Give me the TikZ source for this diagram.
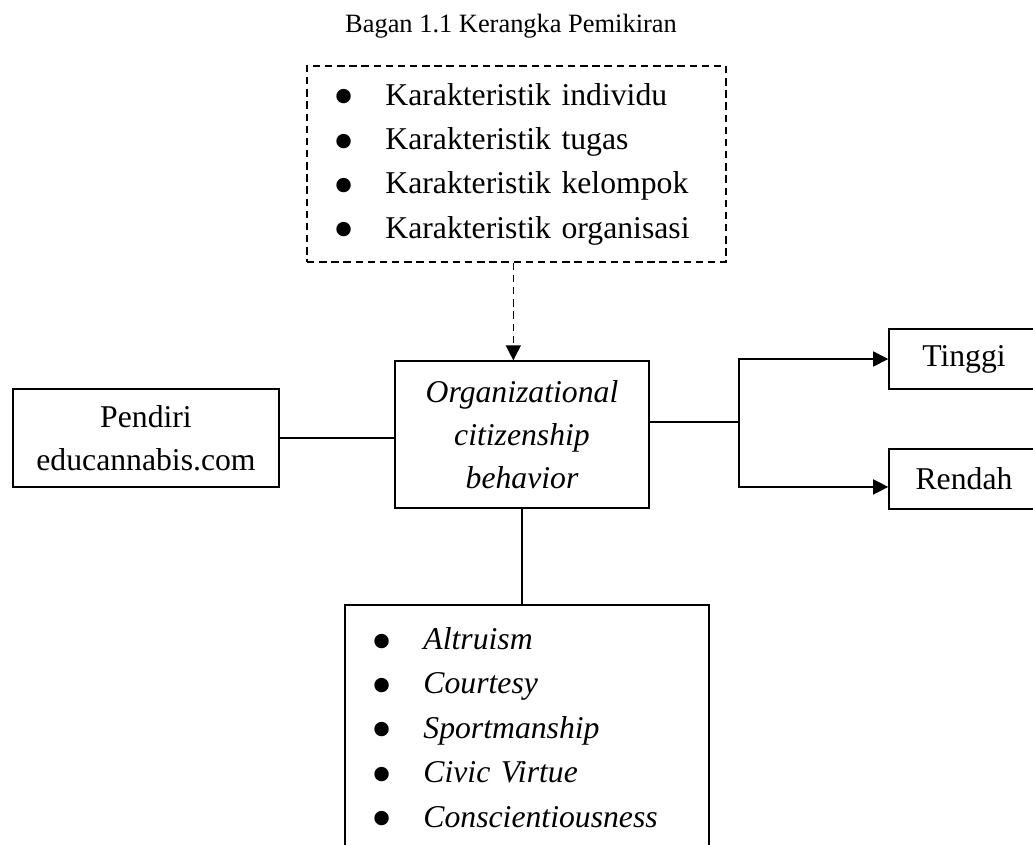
\documentclass[tikz,border=0pt]{standalone}
\usepackage{fontspec}
\setmainfont{Liberation Serif}
\usetikzlibrary{arrows.meta,positioning}
\newcommand{\bul}{\makebox[18.3pt][l]{\hspace{-1.4pt}\smash{\raisebox{-4.4pt}{\scalebox{1.9}{\textbullet}}}}}

\begin{document}
\begin{tikzpicture}[
  x=0.3785pt, y=-0.3785pt,
  box/.style={draw, line width=0.55pt, align=center, inner sep=0pt,
              font=\fontsize{12}{16.3}\selectfont},
  lst/.style={draw, line width=0.55pt, align=left, inner xsep=11.4pt, inner ysep=0pt,
              font=\fontsize{12}{16.8}\selectfont},
  dsh/.style={dash pattern=on 2.8pt off 1.8pt},
  ar/.style ={-{Triangle[length=5.7pt,width=5.7pt]}, line width=0.55pt},
  ln/.style ={line width=0.55pt}
]
\useasboundingbox (0,0) rectangle (1033,844);
\clip (0,0) rectangle (1033,844);
\node[font=\fontsize{10}{12}\selectfont, anchor=base] (ttl) at (511,32) {Bagan 1.1 Kerangka Pemikiran};
\node[lst, dsh, text width=135.8pt, minimum height=74.2pt] (kar) at (516.5,164)
  {\bul Karakteristik individu\\\bul Karakteristik tugas\\
   \bul Karakteristik kelompok\\\bul Karakteristik organisasi};
\node[box, minimum width=96.1pt, minimum height=55.6pt,
      font={\fontsize{12}{16.3}\selectfont\itshape}] (ocb) at (522,434.5)
  {Organizational\\citizenship\\behavior};
\node[box, minimum width=100.7pt, minimum height=37.1pt] (pend) at (146,438) {Pendiri\\educannabis.com};
\node[box, minimum width=56.8pt, minimum height=22.7pt] (tgi) at (964,359) {Tinggi};
\node[box, minimum width=56.8pt, minimum height=22.7pt] (rdh) at (964,479) {Rendah};
\node[lst, text width=115pt, minimum height=92.7pt] (dim) at (527,727.5)
  {\bul\textit{Altruism}\\\bul\textit{Courtesy}\\\bul\textit{Sportmanship}\\
   \bul\textit{Civic Virtue}\\\bul\textit{Conscientiousness}};
\coordinate (jn) at (739,422);
% connectors
\draw[ar, dsh] ([xshift=-1.2pt]kar.south) -- ([xshift=-1.2pt]kar.south |- ocb.north);
\draw[ln] (pend) -- (pend -| ocb.west);
\draw[ln] (ocb.east |- jn) -- (jn);
\draw[ar] (jn) |- (tgi.west);
\draw[ar] (jn) |- ([yshift=-3pt]rdh.west);
\draw[ln] (ocb.south) -- (ocb.south |- dim.north);
\end{tikzpicture}
\end{document}
